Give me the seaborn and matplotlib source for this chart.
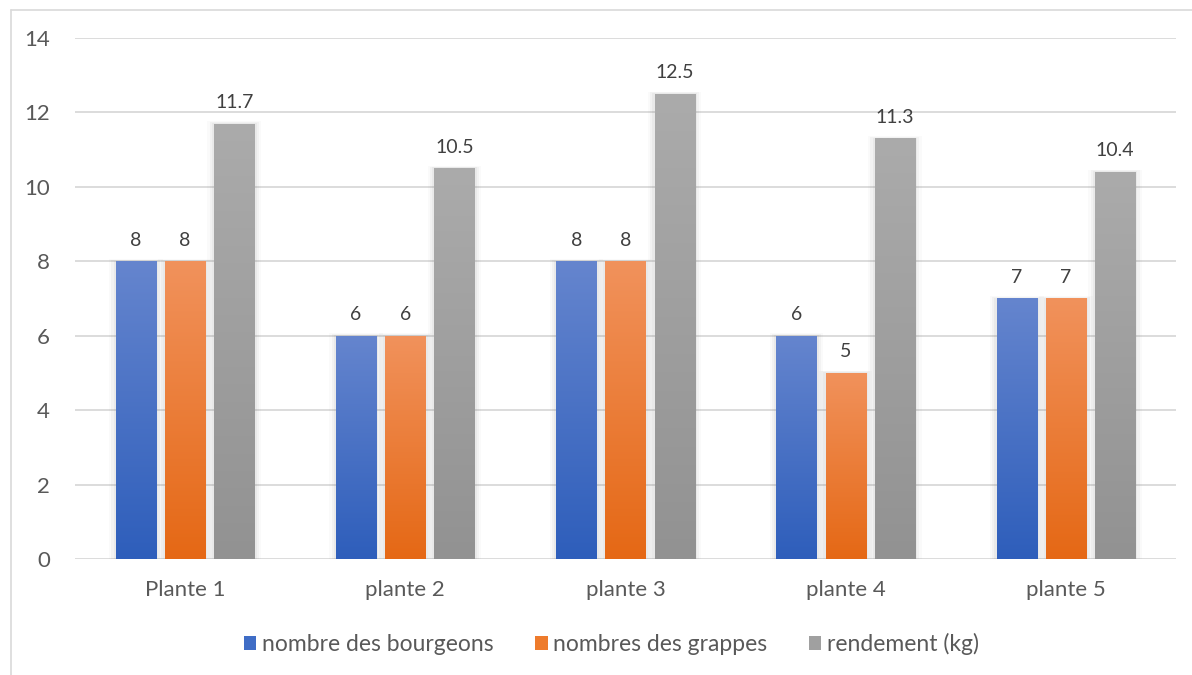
import numpy as np
import pandas as pd
import matplotlib.pyplot as plt
import matplotlib.colors as mcolors
from matplotlib.patches import Patch, Rectangle
from matplotlib.lines import Line2D
import seaborn as sns

# values
plantes = ["Plante 1", "plante 2", "plante 3", "plante 4", "plante 5"]
series = ["nombre des bourgeons", "nombres des grappes", "rendement (kg)"]
bourgeons = [8, 6, 8, 6, 7]
grappes = [8, 6, 8, 5, 7]
rendement = [11.7, 10.5, 12.5, 11.3, 10.4]

# gradient colours (top, bottom) and legend swatch colours
grad_top = ["#6585CE", "#F1925C", "#ABABAB"]
grad_bottom = ["#2E5EBB", "#E56815", "#929292"]
swatch = ["#3F6DC6", "#EE7B2C", "#A0A0A0"]

df = pd.DataFrame({
    "plante": plantes * 3,
    "serie": [series[0]] * 5 + [series[1]] * 5 + [series[2]] * 5,
    "valeur": bourgeons + grappes + rendement,
})

sns.set_style("white")
plt.rcParams["font.family"] = ["Lato", "DejaVu Sans"]

fig = plt.figure(figsize=(11.92, 6.75), dpi=100)
ax = fig.add_axes([0.0629, 0.1719, 0.9237, 0.7718])

sns.barplot(data=df, x="plante", y="valeur", hue="serie", hue_order=series,
            palette=swatch, width=0.67, gap=0.18, errorbar=None, ax=ax,
            legend=False, zorder=3)

ax.set_ylim(0, 14)
ax.set_xlim(-0.5, 4.5)
ax.set_yticks(range(0, 15, 2))
ax.yaxis.grid(True, color="#d9d9d9", linewidth=1.3, zorder=0)
ax.set_axisbelow(True)
for s in ax.spines.values():
    s.set_visible(False)
ax.tick_params(axis="both", length=0, labelsize=16, labelcolor="#595959")
ax.tick_params(axis="y", pad=18)
ax.tick_params(axis="x", pad=15)
ax.set_xlabel("")
ax.set_ylabel("")

# gradient fill + soft shadow for every bar
for i, cont in enumerate(ax.containers):
    c0 = np.array(mcolors.to_rgb(grad_top[i]))
    c1 = np.array(mcolors.to_rgb(grad_bottom[i]))
    t = np.linspace(0, 1, 200)[:, None, None]
    img = c0 * (1 - t) + c1 * t
    for bar in cont:
        x0, w, h = bar.get_x(), bar.get_width(), bar.get_height()
        for k, a in [(0.03, 0.04), (0.02, 0.06), (0.01, 0.08)]:
            ax.add_patch(Rectangle((x0 - k, -0.05), w + 2 * k, h + 0.05 + k * 2,
                                   facecolor="#808080", alpha=a, edgecolor="none",
                                   zorder=2))
        bar.set_facecolor("none")
        bar.set_edgecolor("none")
        im = ax.imshow(img, extent=[x0, x0 + w, 0, h], aspect="auto",
                       zorder=3, interpolation="bilinear")
        im.set_clip_path(bar)
    ax.bar_label(cont, labels=[f"{v:g}" for v in cont.datavalues],
                 padding=9, fontsize=14, color="#404040")

ax.set_ylim(0, 14)
ax.set_xlim(-0.5, 4.5)

handles = [Patch(facecolor=c, edgecolor="none") for c in swatch]
fig.legend(handles, series, loc="center", bbox_to_anchor=(0.513, 0.046), ncol=3,
           frameon=False, fontsize=16.5, labelcolor="#595959",
           handlelength=0.55, handleheight=0.55, handletextpad=0.25,
           columnspacing=1.8)

# chart border (only top and left visible)
fig.add_artist(Line2D([0.0092, 1.0], [0.985, 0.985], transform=fig.transFigure,
                      color="#d9d9d9", linewidth=1.2))
fig.add_artist(Line2D([0.0092, 0.0092], [0.0, 0.985], transform=fig.transFigure,
                      color="#d9d9d9", linewidth=1.2))

fig.savefig("out.png", dpi=100)
